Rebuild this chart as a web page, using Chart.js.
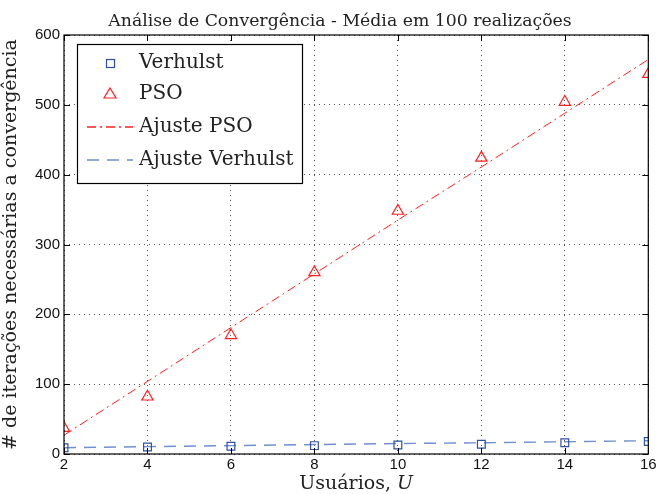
<!DOCTYPE html>
<html>
<head>
<meta charset="utf-8">
<script src="https://cdn.jsdelivr.net/npm/chart.js@4/dist/chart.umd.min.js"></script>
<style>
  html, body { margin: 0; padding: 0; background: #fff; }
  #wrap { width: 656px; height: 494px; }
</style>
</head>
<body>
<div id="wrap"><canvas id="c" width="656" height="494"></canvas></div>
<script>
// Number of users
const users = [2, 4, 6, 8, 10, 12, 14, 16];
// Mean iterations to convergence (100 runs)
const verhulst = [9, 10, 11, 12, 13, 14, 16, 18];
const pso = [37, 82, 170, 260, 348, 424, 504, 544];
// Linear fits
const ajustePso = [27, 104, 181, 258, 335, 411, 488, 565];
const ajusteVerhulst = [9, 10.5, 12, 13.5, 15, 16, 17.5, 19];

const xTicks = [2, 4, 6, 8, 10, 12, 14, 16];
const yTicks = [0, 100, 200, 300, 400, 500, 600];

const chartTitle = 'Análise de Convergência - Média em 100 realizações';

const pts = (ys) => users.map((x, i) => ({ x, y: ys[i] }));

const SERIF = '"DejaVu Serif", "Liberation Serif", serif';
const SANS = '"Liberation Sans", Arial, sans-serif';

const BLUE = '#2e4fa8';
const BLUE_LIGHT = '#6f8fd0';
const RED = '#ff1f1f';

// Title, frame, inward ticks, x-axis title and legend box
const decor = {
  id: 'decor',
  afterDraw(chart) {
    const { ctx, chartArea: a, scales } = chart;
    ctx.save();

    // title
    ctx.fillStyle = '#222';
    ctx.font = '17.3px ' + SERIF;
    ctx.textAlign = 'center';
    ctx.textBaseline = 'alphabetic';
    ctx.fillText(chartTitle, 340, 26);

    ctx.strokeStyle = '#000';
    ctx.lineWidth = 1.2;
    ctx.setLineDash([]);
    ctx.strokeRect(a.left, a.top, a.right - a.left, a.bottom - a.top);
    ctx.lineWidth = 1;
    const t = 6;
    xTicks.forEach(v => {
      const px = Math.round(scales.x.getPixelForValue(v)) + 0.5;
      ctx.beginPath();
      ctx.moveTo(px, a.bottom); ctx.lineTo(px, a.bottom - t);
      ctx.moveTo(px, a.top); ctx.lineTo(px, a.top + t);
      ctx.stroke();
    });
    yTicks.forEach(v => {
      const py = Math.round(scales.y.getPixelForValue(v)) + 0.5;
      ctx.beginPath();
      ctx.moveTo(a.left, py); ctx.lineTo(a.left + t, py);
      ctx.moveTo(a.right, py); ctx.lineTo(a.right - t, py);
      ctx.stroke();
    });

    // x-axis title with italic symbol
    ctx.fillStyle = '#222';
    const f1 = '19px ' + SERIF, f2 = 'italic 19px ' + SERIF;
    const s1 = 'Usuários, ', s2 = 'U';
    ctx.font = f1; const w1 = ctx.measureText(s1).width;
    ctx.font = f2; const w2 = ctx.measureText(s2).width;
    const cx = (a.left + a.right) / 2;
    const x0 = cx - (w1 + w2) / 2;
    const yb = 489;
    ctx.font = f1; ctx.textAlign = 'left'; ctx.fillText(s1, x0, yb);
    ctx.font = f2; ctx.fillText(s2, x0 + w1, yb);

    // legend
    const lx = 77, ly = 44, lw = 225, lh = 139;
    ctx.fillStyle = '#fff';
    ctx.fillRect(lx, ly, lw, lh);
    ctx.strokeStyle = '#000';
    ctx.lineWidth = 1.2;
    ctx.strokeRect(lx + 0.5, ly + 0.5, lw, lh);
    const rows = [63, 94, 127, 160];
    const ds = chart.data.datasets;
    ctx.font = '20px ' + SERIF;
    ctx.textBaseline = 'middle';
    ds.forEach((d, i) => {
      const yy = rows[i];
      if (d.showLine) {
        ctx.strokeStyle = d.borderColor;
        ctx.lineWidth = 1.4;
        ctx.setLineDash(d.borderDash);
        ctx.beginPath();
        ctx.moveTo(87, yy); ctx.lineTo(133, yy);
        ctx.stroke();
        ctx.setLineDash([]);
      } else {
        ctx.strokeStyle = d.borderColor;
        ctx.lineWidth = 1.2;
        const r = 4;
        if (d.pointStyle === 'rect') {
          ctx.strokeRect(110 - r + 0.5, yy - r + 0.5, 2 * r, 2 * r);
        } else {
          ctx.beginPath();
          ctx.moveTo(110, yy - 6);
          ctx.lineTo(116, yy + 4);
          ctx.lineTo(104, yy + 4);
          ctx.closePath();
          ctx.stroke();
        }
      }
      ctx.fillStyle = '#222';
      ctx.fillText(d.label, 139, yy);
    });
    ctx.restore();
  }
};

const gridOpts = { color: '#555', drawTicks: false, lineWidth: 1 };

new Chart(document.getElementById('c'), {
  type: 'scatter',
  data: {
    datasets: [
      {
        label: 'Verhulst', data: pts(verhulst), showLine: false,
        pointStyle: 'rect', pointRadius: 5.5, pointBorderColor: BLUE, borderColor: BLUE,
        pointBackgroundColor: 'rgba(0,0,0,0)', pointBorderWidth: 1.2, order: 0
      },
      {
        label: 'PSO', data: pts(pso), showLine: false,
        pointStyle: 'triangle', pointRadius: 6.5, pointBorderColor: RED, borderColor: RED,
        pointBackgroundColor: 'rgba(0,0,0,0)', pointBorderWidth: 1.2, order: 0
      },
      {
        label: 'Ajuste PSO', data: pts(ajustePso), showLine: true,
        borderColor: RED, borderWidth: 1, borderDash: [9, 4, 2, 4],
        pointRadius: 0, order: 1
      },
      {
        label: 'Ajuste Verhulst', data: pts(ajusteVerhulst), showLine: true,
        borderColor: BLUE_LIGHT, borderWidth: 1.4, borderDash: [12, 8],
        pointRadius: 0, order: 1
      }
    ]
  },
  options: {
    responsive: false,
    animation: false,
    layout: { padding: { left: 0, right: 7, top: 35, bottom: 0 } },
    plugins: {
      legend: { display: false },
      tooltip: { enabled: false },
      title: { display: false }
    },
    scales: {
      x: {
        type: 'linear', min: 2, max: 16,
        afterBuildTicks: (s) => { s.ticks = xTicks.map(v => ({ value: v })); },
        afterFit: (s) => { s.height = 40; s.paddingLeft = 0; s.paddingRight = 0; },
        ticks: { color: '#111', font: { family: SANS, size: 15 }, padding: 2, maxRotation: 0 },
        grid: gridOpts,
        border: { display: false, dash: [1, 4] }
      },
      y: {
        min: 0, max: 600,
        afterBuildTicks: (s) => { s.ticks = yTicks.map(v => ({ value: v })); },
        afterFit: (s) => { s.width = 64; s.paddingTop = 0; s.paddingBottom = 0; },
        ticks: { color: '#111', font: { family: SANS, size: 15 }, padding: 4 },
        grid: gridOpts,
        border: { display: false, dash: [1, 4] },
        title: {
          display: true,
          text: '# de iterações necessárias a convergência',
          color: '#222',
          font: { family: SERIF, size: 19 },
          padding: { top: 0, bottom: 0 }
        }
      }
    }
  },
  plugins: [decor]
});
</script>
</body>
</html>
